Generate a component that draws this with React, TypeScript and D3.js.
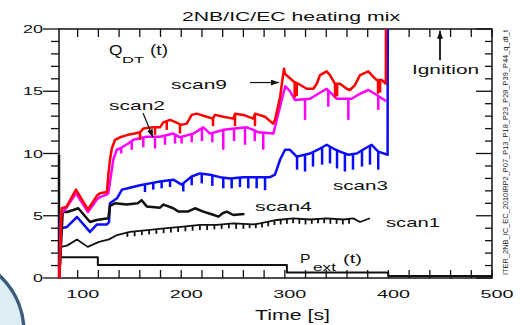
import * as d3 from 'd3';
import { useEffect, useRef } from 'react';

// values: [time (s), value]
const scan9 = [
  [82.3, 0.0], [84.6, 5.6], [89.0, 5.7], [98.4, 7.1], [110.0, 5.5], [118.5, 6.6], [121.6, 6.8], [128.3, 6.9],
  [129.5, 8.2], [131.2, 9.5], [133.0, 10.4], [136.1, 11.1], [140.9, 11.3], [148.6, 11.5], [155.0, 11.6],
  [160.2, 11.7], [163.4, 12.0], [173.0, 12.1], [179.5, 12.1], [182.7, 12.5], [189.2, 12.7], [195.0, 12.5],
  [200.0, 12.3], [205.3, 12.4], [210.1, 13.1], [214.9, 13.2], [224.6, 12.95], [230.5, 12.8], [232.6, 13.1],
  [240.6, 12.95], [250.3, 12.8], [252.0, 13.2], [259.9, 13.1], [269.6, 12.8], [271.3, 13.2], [280.9, 12.95],
  [288.6, 12.4], [290.5, 12.7], [295.4, 14.5], [297.3, 15.7], [299.2, 16.8], [300.2, 16.4], [308.2, 15.8],
  [313.0, 15.6], [321.1, 15.2], [327.5, 15.2], [330.8, 15.6], [334.0, 16.3], [340.4, 16.6], [343.6, 16.3],
  [348.5, 15.6], [353.3, 15.6], [359.7, 15.2], [362.9, 15.1], [367.7, 15.5], [372.6, 16.3], [380.6, 16.6],
  [383.8, 16.3], [388.7, 15.9], [393.5, 15.9], [397.5, 15.6], [397.6, 20.5],
];
const scan9Dips = [
  [160.2, 11.1], [174.7, 11.5], [186.0, 11.9], [198.8, 11.6], [230.7, 12.2], [251.9, 12.2], [271.2, 12.2],
  [309.5, 14.5], [311.5, 14.6], [348.5, 14.5], [350.5, 14.6], [390.0, 14.8], [392.0, 14.9],
];

const scan2 = [
  [82.3, 0.0], [84.0, 5.2], [88.0, 5.5], [98.4, 6.8], [110.0, 5.3], [118.5, 6.3], [121.6, 6.5], [128.0, 6.7],
  [129.6, 6.8], [134.4, 9.5], [137.7, 10.3], [140.9, 10.4], [148.9, 10.8], [153.7, 11.1], [166.7, 11.35],
  [179.5, 11.35], [192.3, 11.6], [198.8, 11.3], [211.6, 11.6], [221.3, 12.1], [227.8, 11.6], [234.2, 11.75],
  [240.6, 11.9], [251.9, 12.0], [263.2, 12.1], [269.6, 11.9], [274.4, 11.7], [288.9, 11.6], [292.2, 12.7],
  [297.0, 14.3], [300.5, 15.4], [305.0, 15.0], [309.8, 14.3], [324.3, 14.4], [332.3, 14.8], [340.4, 15.2],
  [350.0, 14.4], [364.5, 14.4], [372.6, 14.8], [380.6, 15.1], [388.7, 14.7], [398.0, 14.2],
];
const scan2Dips = [
  [142.0, 10.0], [152.2, 10.3], [163.4, 10.5], [174.7, 10.4], [184.3, 10.7], [194.0, 10.8], [200.4, 10.8],
  [210.1, 10.9], [220.0, 11.0], [230.0, 10.9], [240.6, 10.3], [251.0, 11.0], [261.6, 10.7], [271.0, 11.0],
  [279.2, 10.3], [319.5, 12.7], [342.0, 13.75], [361.3, 12.7], [390.2, 13.5],
];

const scan3 = [
  [84.6, 4.0], [89.7, 4.1], [99.4, 4.9], [111.9, 3.7], [118.7, 4.3], [128.3, 4.3], [130.3, 4.5], [131.2, 6.0],
  [138.0, 6.4], [142.8, 7.1], [150.5, 7.25], [160.2, 7.45], [169.8, 7.6], [179.5, 7.75], [192.3, 7.9],
  [200.4, 7.5], [210.1, 8.15], [218.1, 8.4], [227.8, 8.3], [237.4, 8.1], [247.1, 8.0], [259.9, 8.1],
  [272.8, 8.1], [285.7, 8.1], [290.5, 8.3], [295.4, 9.5], [300.2, 10.3], [305.0, 10.3], [311.5, 9.75],
  [324.3, 10.0], [334.0, 10.4], [340.4, 10.7], [346.8, 10.4], [353.3, 10.15], [361.3, 9.9], [369.4, 10.0],
  [377.4, 10.4], [383.8, 10.7], [390.2, 10.15], [399.2, 9.9], [399.4, 20.5],
];
const scan3Dips = [
  [165.0, 6.9], [173.0, 7.1], [181.1, 7.2], [189.2, 7.3], [202.0, 6.95], [210.1, 7.45], [219.8, 7.6],
  [230.0, 7.4], [240.6, 7.2], [248.7, 7.2], [256.7, 7.3], [264.7, 7.2], [272.8, 7.2], [280.9, 7.05],
  [311.8, 8.7], [319.5, 8.55], [327.2, 8.95], [336.0, 9.1], [343.6, 9.2], [350.4, 8.8], [358.0, 8.55],
  [365.8, 8.7], [374.5, 8.95], [382.2, 9.1], [390.2, 8.7],
];

const scan4 = [
  [82.3, 0.0], [85.6, 5.3], [89.7, 5.3], [95.8, 5.46], [100.6, 5.6], [111.9, 4.5], [118.4, 4.66], [129.6, 4.8],
  [131.2, 5.8], [136.1, 6.0], [147.4, 5.9], [158.0, 6.0], [161.8, 6.25], [166.7, 5.75], [179.5, 5.65],
  [183.0, 5.9], [192.3, 5.6], [197.0, 5.35], [206.8, 5.35], [213.3, 5.6], [221.3, 5.33], [230.0, 5.1],
  [236.0, 4.93], [240.0, 5.2], [243.9, 5.33], [250.3, 5.06], [255.0, 5.1], [261.0, 5.15],
];

const scan1 = [
  [82.5, 0.0], [84.0, 2.5], [89.7, 2.6], [99.4, 3.1], [109.7, 2.5], [120.6, 2.9], [130.3, 3.1], [138.0, 3.45],
  [150.5, 3.7], [169.8, 3.86], [186.0, 4.0], [202.0, 4.12], [218.1, 4.26], [234.2, 4.26], [250.3, 4.39],
  [269.6, 4.3], [276.0, 4.39], [292.2, 4.66], [308.2, 4.79], [324.3, 4.7], [340.4, 4.79], [356.5, 4.7],
  [366.1, 4.79], [372.6, 4.5], [382.2, 4.8],
];
const scan1Dips = [
  [148, 3.3], [155, 3.35], [162, 3.45], [169, 3.5], [176, 3.55], [183, 3.6], [190, 3.65], [197, 3.7],
  [204, 3.75], [211, 3.8], [218, 3.85], [225, 3.85], [232, 3.9], [239, 3.95], [246, 4.0], [253, 3.95],
  [260, 3.95], [266, 4.0], [272, 4.0], [278, 4.05], [284, 4.15], [290, 4.25], [296, 4.3], [302, 4.35],
  [308, 4.4], [314, 4.35], [320, 4.3], [326, 4.35], [332, 4.4], [338, 4.4], [344, 4.35], [350, 4.35],
  [356, 4.3], [362, 4.35],
];

const startTrace = [[82.0, 0.0], [82.0, 9.9]];

const pext = [
  [83.0, 1.66], [119.5, 1.66], [119.5, 1.04], [302.0, 1.04], [302.0, 0.45], [399.8, 0.45], [399.8, 0.16],
  [500.0, 0.16],
];

const xTickLabels = [100, 200, 300, 400, 500];
const yTickLabels = [0, 5, 10, 15, 20];

const FONT = '"Liberation Sans", Arial, sans-serif';
const RUN_ID = 'ITER_2NB_IC_EC_2010IRP2_P07_P13_P18_P23_P28_P39_P44_q_dt_t';

function valueAt(line, t) {
  const i = d3.bisector((d) => d[0]).left(line, t);
  if (i <= 0) return line[0][1];
  if (i >= line.length) return line[line.length - 1][1];
  const a = line[i - 1];
  const b = line[i];
  return a[1] + ((b[1] - a[1]) * (t - a[0])) / (b[0] - a[0] || 1);
}

export default function App() {
  const ref = useRef<SVGSVGElement>(null);

  useEffect(() => {
    const svg = d3.select(ref.current);
    svg.selectAll('*').remove();

    const x = d3.scaleLinear().domain([82, 500]).range([59, 492]);
    const y = d3.scaleLinear().domain([0, 20]).range([278, 29]);

    const label = (str, px, py, size, len, anchor = 'start') =>
      svg.append('text')
        .attr('x', px)
        .attr('y', py)
        .attr('font-family', FONT)
        .attr('font-size', size)
        .attr('text-anchor', anchor)
        .attr('fill', '#111')
        .attr('textLength', len)
        .attr('lengthAdjust', 'spacingAndGlyphs')
        .text(str);

    // slide decoration in the lower left corner
    svg.append('circle')
      .attr('cx', -53).attr('cy', 332).attr('r', 77)
      .attr('fill', '#ddedf6').attr('stroke', '#3c5a7a').attr('stroke-width', 3.5);

    const defs = svg.append('defs');
    defs.append('clipPath').attr('id', 'plot-clip')
      .append('rect').attr('x', 57).attr('y', 29).attr('width', 436).attr('height', 250);
    defs.append('marker')
      .attr('id', 'arrow')
      .attr('viewBox', '0 0 8 6')
      .attr('refX', 8).attr('refY', 3)
      .attr('markerWidth', 8).attr('markerHeight', 6)
      .attr('markerUnits', 'userSpaceOnUse')
      .attr('orient', 'auto')
      .append('path').attr('d', 'M0,0L8,3L0,6Z').attr('fill', '#111');

    // frame
    svg.append('rect')
      .attr('x', x(82)).attr('y', y(20))
      .attr('width', x(500) - x(82)).attr('height', y(0) - y(20))
      .attr('fill', 'none').attr('stroke', '#111').attr('stroke-width', 1.5);

    const ticks = svg.append('g').attr('stroke', '#111').attr('stroke-width', 1.3);
    const xMinor = d3.range(100, 501, 20);
    xMinor.forEach((v) => {
      ticks.append('line').attr('x1', x(v)).attr('x2', x(v)).attr('y1', y(0)).attr('y2', y(0) - 8);
      ticks.append('line').attr('x1', x(v)).attr('x2', x(v)).attr('y1', y(20)).attr('y2', y(20) + 8);
    });
    d3.range(0, 21, 1).forEach((v) => {
      const major = v % 5 === 0;
      ticks.append('line').attr('x1', x(82) - (major ? 16 : 8)).attr('x2', x(82)).attr('y1', y(v)).attr('y2', y(v));
      ticks.append('line').attr('x1', x(500) - (major ? 16 : 7)).attr('x2', x(500)).attr('y1', y(v)).attr('y2', y(v));
    });

    xTickLabels.forEach((v) => label(String(v), x(v) + 5, 298, 11.5, 33, 'middle'));
    yTickLabels.forEach((v) => label(String(v), 43, y(v) + 4, 11.5, v >= 10 ? 20 : 10, 'end'));

    const plot = svg.append('g').attr('clip-path', 'url(#plot-clip)');
    const line = d3.line().x((d) => x(d[0])).y((d) => y(d[1]));

    const drawSeries = (data, dips, color, width) => {
      plot.append('path')
        .attr('d', line(data))
        .attr('fill', 'none')
        .attr('stroke', color)
        .attr('stroke-width', width)
        .attr('stroke-linejoin', 'round');
      if (dips) {
        plot.append('g')
          .selectAll('line')
          .data(dips)
          .enter()
          .append('line')
          .attr('x1', (d) => x(d[0]))
          .attr('x2', (d) => x(d[0]))
          .attr('y1', (d) => y(valueAt(data, d[0])))
          .attr('y2', (d) => y(d[1]))
          .attr('stroke', color)
          .attr('stroke-width', width);
      }
    };

    drawSeries(pext, null, '#111', 2);
    drawSeries(scan1, scan1Dips, '#111', 1.8);
    drawSeries(scan3, scan3Dips, '#0a0aff', 2.5);
    drawSeries(scan4, null, '#111', 2.5);
    drawSeries(startTrace, null, '#111', 2.5);
    drawSeries(scan2, scan2Dips, '#ff00ff', 2.5);
    drawSeries(scan9, scan9Dips, '#ff0000', 2.5);

    // arrows
    const arrow = (t1, v1, t2, v2, w) =>
      svg.append('line')
        .attr('x1', x(t1)).attr('y1', y(v1)).attr('x2', x(t2)).attr('y2', y(v2))
        .attr('stroke', '#111').attr('stroke-width', w)
        .attr('marker-end', 'url(#arrow)');
    arrow(266.4, 15.7, 294.4, 15.7, 1.2);
    arrow(163.1, 13.25, 172.7, 11.3, 1.2);
    arrow(449.8, 17.5, 449.8, 19.85, 1.8);

    // labels
    label('2NB/IC/EC heating mix', 182, 21, 12.5, 218);
    label('Time [s]', 255, 320, 14, 75);
    label('Q', 109, 55, 14, 13.5);
    label('DT', 122, 62.5, 9, 22);
    label('(t)', 150, 55, 14, 18);
    label('scan9', 171, 89.3, 13, 56);
    label('scan2', 109, 110, 13, 56);
    label('Ignition', 412, 74, 13, 67);
    label('scan3', 333, 190, 13, 55);
    label('scan4', 255, 211, 13, 57);
    label('scan1', 386, 227, 13, 54);
    label('P', 300, 263, 13, 10.5);
    label('ext', 313, 271, 10.5, 23);
    label('(t)', 343, 263, 13, 19);

    // run identifier, written bottom to top along the right edge
    svg.append('g')
      .attr('transform', 'translate(508,275) rotate(-90)')
      .append('text')
      .attr('x', 0)
      .attr('y', 0)
      .attr('font-family', FONT)
      .attr('font-size', 7.6)
      .attr('fill', '#222')
      .attr('textLength', 245)
      .attr('lengthAdjust', 'spacingAndGlyphs')
      .text(RUN_ID);
  }, []);

  return (
    <svg
      ref={ref}
      width={520}
      height={325}
      style={{ position: 'absolute', left: 0, top: 0, background: '#fff', display: 'block' }}
    />
  );
}
